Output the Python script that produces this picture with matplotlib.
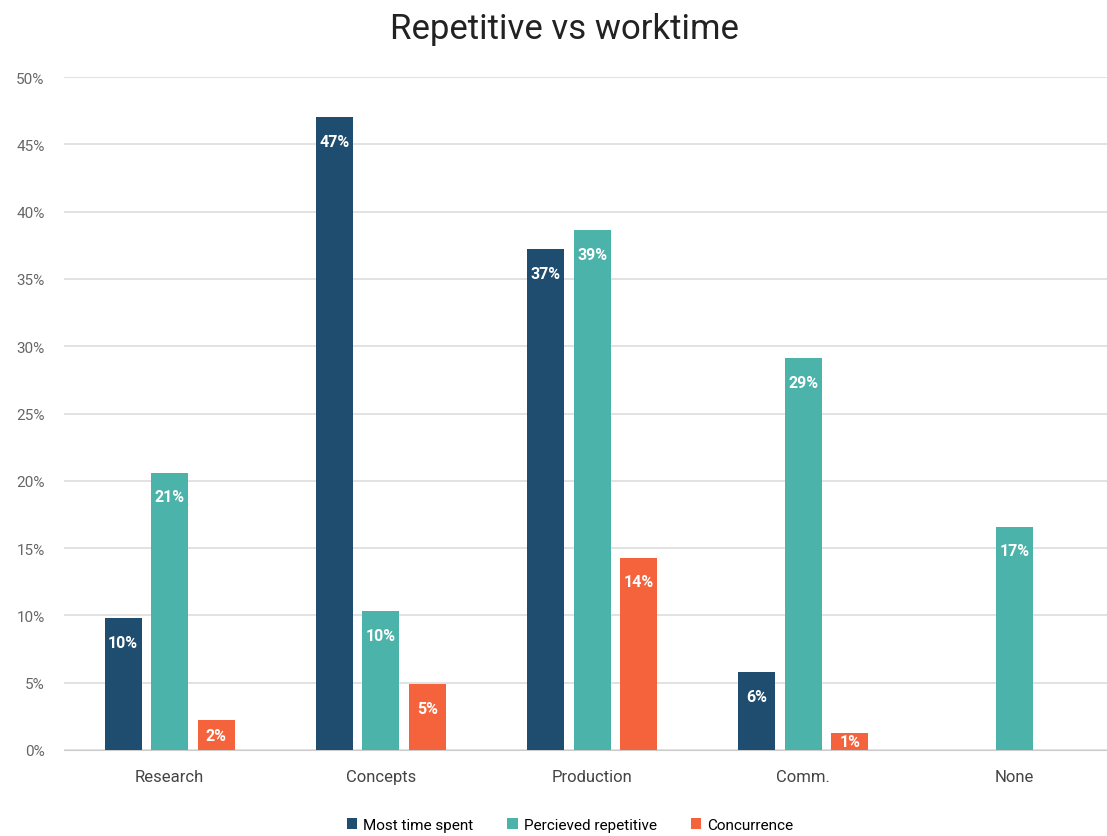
import numpy as np
import matplotlib.pyplot as plt
from matplotlib.ticker import FuncFormatter

categories = ['Research', 'Concepts', 'Production', 'Comm.', 'None']
most_time = [9.8, 47.0, 37.2, 5.8, 0]
perceived = [20.6, 10.3, 38.6, 29.1, 16.6]
concurrence = [2.2, 4.9, 14.3, 1.3, 0]
series = ['Most time spent', 'Percieved repetitive', 'Concurrence']
colors = ['#1e4d6f', '#4bb3a9', '#f5633c']

fig = plt.figure(figsize=(11.07, 8.37), dpi=100)
ax = fig.add_axes([64 / 1107, 1 - 751 / 837, 1050 / 1107, 673 / 837])

x = np.arange(len(categories))
w = 0.175
off = 0.22
for i, (vals, name, c) in enumerate(zip([most_time, perceived, concurrence], series, colors)):
    pos = x + (i - 1) * off
    vals = np.array(vals)
    mask = vals > 0
    ax.bar(pos[mask], vals[mask], width=w, color=c, label=name, zorder=3)
    for p, v in zip(pos[mask], vals[mask]):
        ax.text(p, max(v - 1.8, v / 2), f'{v:.0f}%', ha='center', va='center', color='white',
                fontsize=11.5, fontweight='bold', family='Roboto', zorder=4)

ax.set_ylim(0, 50)
ax.set_xlim(-0.5, 4.47)
ax.set_yticks(range(0, 51, 5))
ax.yaxis.set_major_formatter(FuncFormatter(lambda v, _: f'{v:.0f}%'))
ax.grid(axis='y', color='#dddddd', linewidth=1.2, zorder=0)
for s in ['top', 'right', 'left']:
    ax.spines[s].set_visible(False)
ax.spines['bottom'].set_color('#cccccc')
ax.tick_params(axis='both', length=0)
ax.tick_params(axis='y', labelsize=11, labelcolor='#666666', pad=14)
ax.set_xticks(x)
ax.set_xticklabels(categories, fontsize=12, color='#444444')
ax.tick_params(axis='x', pad=14)
for lbl in ax.get_xticklabels() + ax.get_yticklabels():
    lbl.set_family('Roboto')

fig.text(0.51, 0.965, 'Repetitive vs worktime', ha='center', va='center',
         fontsize=25, family='Roboto', color='#222222')

fig.legend(loc='center', bbox_to_anchor=(0.515, 1 - 826 / 837), ncol=3, frameon=False,
           handlelength=0.7, handleheight=0.7, handletextpad=0.4,
           columnspacing=2.2, prop={'family': 'Roboto', 'size': 11})

fig.savefig('out.png', dpi=100)
